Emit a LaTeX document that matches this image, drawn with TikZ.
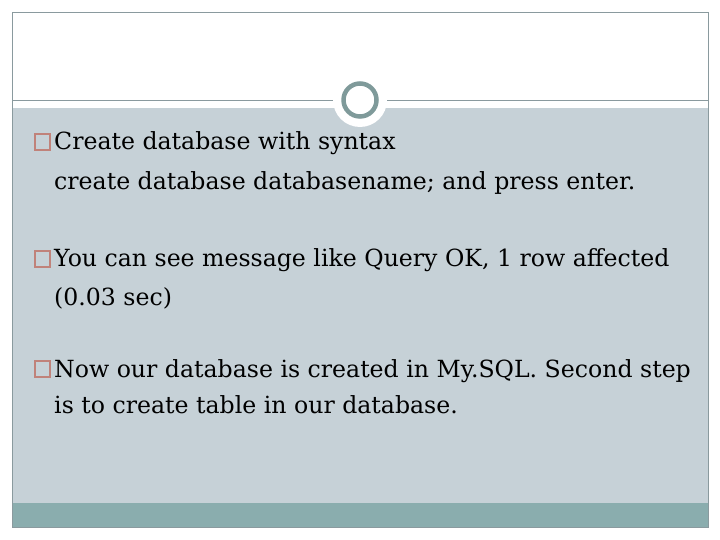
\documentclass[tikz,border=0pt]{standalone}
\usepackage{fontspec}
\setmainfont{DejaVu Serif}
\definecolor{bgg}{HTML}{C6D1D7}
\definecolor{barc}{HTML}{8AADAE}
\definecolor{framec}{HTML}{8A9A9E}
\definecolor{ringc}{HTML}{7F9A9A}
\definecolor{boxc}{HTML}{C0827A}
\tikzset{txt/.style={anchor=base west,inner sep=0pt,font=\fontsize{23.7}{27}\selectfont},
 bullet/.style={draw=boxc,line width=1.5pt}}
\begin{document}
\begin{tikzpicture}[x=1bp,y=-1bp]
\useasboundingbox (0,0) rectangle (720,540);
\fill[white] (0,0) rectangle (720,540);
\fill[bgg] (12,108) rectangle (708,503);
\fill[barc] (12,503) rectangle (708,527);
\draw[framec,line width=0.8pt] (12,12) rectangle (708,527);
\draw[framec,line width=0.8pt] (12,100) -- (708,100);
\fill[white] (360,100) circle (27);
\draw[ringc,line width=4.5pt] (360,100) circle (16.5);
\draw[bullet] (35,134) rectangle (50,150);
\node[txt] (t1) at (54,150) {Create database with syntax};
\node[txt] (t1b) at (54,190) {create database databasename; and press enter.};
\draw[bullet] (35,251) rectangle (50,267);
\node[txt] (t2) at (54,267) {You can see message like Query OK, 1 row affected};
\node[txt] (t2b) at (54,305) {(0.03 sec)};
\draw[bullet] (35,361) rectangle (50,377);
\node[txt] (t3) at (54,377) {Now our database is created in My.SQL. Second step};
\node[txt] (t3b) at (54,413) {is to create table in our database.};
\end{tikzpicture}
\end{document}
